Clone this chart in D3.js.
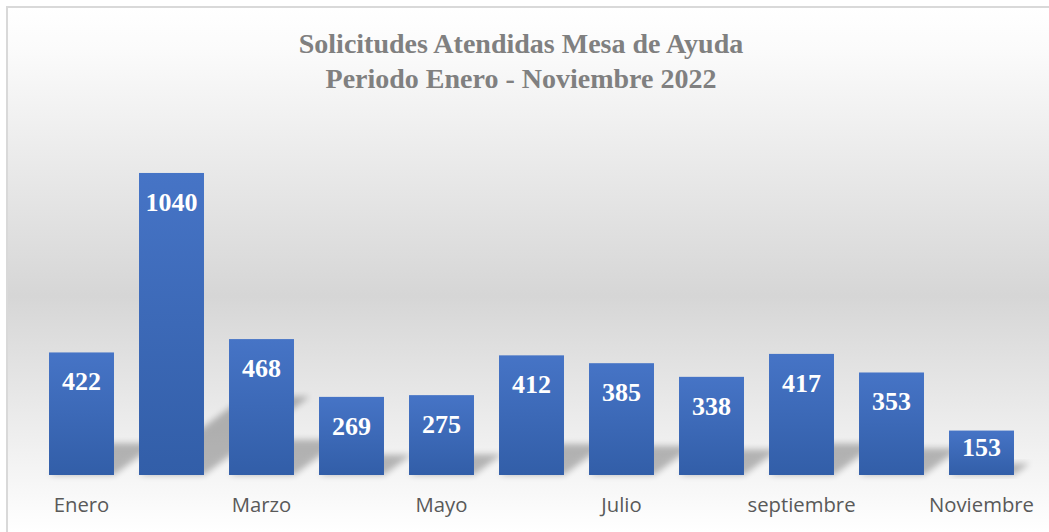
<!DOCTYPE html>
<html lang="es">
<head>
<meta charset="UTF-8">
<title>Solicitudes Atendidas Mesa de Ayuda</title>
<script src="https://d3js.org/d3.v7.min.js"></script>
<style>
  body { margin: 0; background: #fff; }
  .x-axis text { font-family: "Open Sans", sans-serif; font-size: 20.3px; fill: #595959; }
  .value-label { font-family: "Liberation Serif", "Times New Roman", serif; font-weight: bold; font-size: 26px; fill: #fff; }
  .title { font-family: "Liberation Serif", "Times New Roman", serif; font-weight: bold; font-size: 28px; fill: #808080; }
</style>
</head>
<body>
<svg id="chart" width="1049" height="532"></svg>
<script>
  // data
  const months = ["Enero", "Febrero", "Marzo", "Abril", "Mayo", "Junio", "Julio", "Agosto", "septiembre", "Octubre", "Noviembre"];
  const values = [422, 1040, 468, 269, 275, 412, 385, 338, 417, 353, 153];
  const shownTicks = ["Enero", "Marzo", "Mayo", "Julio", "septiembre", "Noviembre"];
  const titleLines = ["Solicitudes Atendidas Mesa de Ayuda", "Periodo Enero - Noviembre 2022"];

  const svg = d3.select("#chart");
  const W = 1049, H = 532;
  const base = 475;

  const defs = svg.append("defs");
  const bg = defs.append("linearGradient").attr("id", "bg")
      .attr("gradientUnits", "userSpaceOnUse")
      .attr("x1", 0).attr("y1", 7).attr("x2", 0).attr("y2", 532);
  bg.append("stop").attr("offset", "0").attr("stop-color", "#ffffff");
  bg.append("stop").attr("offset", "0.08").attr("stop-color", "#fbfbfb");
  bg.append("stop").attr("offset", "0.55").attr("stop-color", "#d6d6d6");
  bg.append("stop").attr("offset", "1").attr("stop-color", "#ffffff");

  const barGrad = defs.append("linearGradient").attr("id", "barGrad")
      .attr("x1", 0).attr("y1", 0).attr("x2", 0).attr("y2", 1);
  barGrad.append("stop").attr("offset", "0").attr("stop-color", "#4674c6");
  barGrad.append("stop").attr("offset", "1").attr("stop-color", "#325ea8");

  defs.append("filter").attr("id", "blur")
      .attr("x", "-30%").attr("y", "-30%").attr("width", "160%").attr("height", "160%")
    .append("feGaussianBlur").attr("stdDeviation", 3);

  // chart area
  svg.append("rect")
      .attr("x", 7).attr("y", 7).attr("width", W + 20).attr("height", H + 20)
      .attr("fill", "url(#bg)")
      .attr("stroke", "#d9d9d9").attr("stroke-width", 2);

  const x = d3.scaleBand().domain(months).range([36.5, 1026.5]).paddingInner(0.278).paddingOuter(0.139);
  const y = d3.scaleLinear().domain([0, 1200]).range([base, 126.5]);

  const data = months.map((m, i) => ({ month: m, value: values[i] }));

  // perspective shadows
  const k = 0.35, m = 0.26;
  svg.append("g").selectAll("path")
    .data(data)
    .join("path")
      .attr("d", d => {
        const x0 = x(d.month), x1 = x0 + x.bandwidth();
        const h = base - y(d.value);
        return `M${x0},${base}L${x1},${base}L${x1 + k * h},${base - m * h}L${x0 + k * h},${base - m * h}Z`;
      })
      .attr("fill", "#000")
      .attr("opacity", 0.26)
      .attr("filter", "url(#blur)");

  // bars
  svg.append("g").selectAll("rect")
    .data(data)
    .join("rect")
      .attr("x", d => x(d.month))
      .attr("y", d => y(d.value))
      .attr("width", x.bandwidth())
      .attr("height", d => base - y(d.value))
      .attr("fill", "url(#barGrad)");

  // value labels (inside end, kept inside short bars)
  svg.append("g").selectAll("text")
    .data(data)
    .join("text")
      .attr("class", "value-label")
      .attr("x", d => x(d.month) + x.bandwidth() / 2)
      .attr("y", d => Math.min(y(d.value) + 38, base - 19))
      .attr("text-anchor", "middle")
      .text(d => d.value);

  // x axis
  const xAxis = d3.axisBottom(x).tickValues(shownTicks).tickSize(0).tickPadding(0);
  const gx = svg.append("g")
      .attr("class", "x-axis")
      .attr("transform", `translate(0,${base})`)
      .call(xAxis);
  gx.select(".domain").remove();
  gx.selectAll("text").attr("dy", null).attr("y", 37);

  // title
  svg.append("text")
      .attr("class", "title")
      .attr("text-anchor", "middle")
      .selectAll("tspan")
      .data(titleLines)
      .join("tspan")
        .attr("x", 521)
        .attr("y", (d, i) => 53 + i * 35)
        .text(d => d);
</script>
</body>
</html>
